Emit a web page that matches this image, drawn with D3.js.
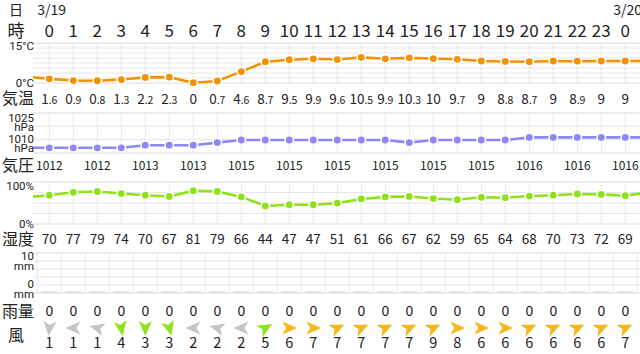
<!DOCTYPE html>
<html>
<head>
<meta charset="utf-8">
<script src="https://cdn.jsdelivr.net/npm/d3@7"></script>
<style>
  body { margin: 0; background: #fff; }
  svg { display: block; font-family: "Noto Sans CJK JP", "Noto Sans", sans-serif; }
</style>
</head>
<body>
<svg id="chart" width="640" height="354"></svg>
<script>
// columns shown (hour 0 of 3/19 .. hour 0 of 3/20)
const hours = [0, 1, 2, 3, 4, 5, 6, 7, 8, 9, 10, 11, 12, 13, 14, 15, 16, 17, 18, 19, 20, 21, 22, 23, 24];
const hourLabels = ["0", "1", "2", "3", "4", "5", "6", "7", "8", "9", "10", "11", "12", "13", "14", "15", "16", "17", "18", "19", "20", "21", "22", "23", "0"];
const dateLabels = [{ hour: 0, label: "3/19" }, { hour: 24, label: "3/20" }];

const temps = [1.6, 0.9, 0.8, 1.3, 2.2, 2.3, 0, 0.7, 4.6, 8.7, 9.5, 9.9, 9.6, 10.5, 9.9, 10.3, 10, 9.7, 9, 8.8, 8.7, 9, 8.9, 9, 9];
const pressures = [1012, 1012, 1012, 1012, 1013, 1013, 1013, 1014, 1015, 1015, 1015, 1015, 1015, 1015, 1015, 1014, 1015, 1015, 1015, 1015, 1016, 1016, 1016, 1016, 1016];
const humidity = [70, 77, 79, 74, 70, 67, 81, 79, 66, 44, 47, 47, 51, 61, 66, 67, 62, 59, 65, 64, 68, 70, 73, 72, 69];
const rain = [0, 0, 0, 0, 0, 0, 0, 0, 0, 0, 0, 0, 0, 0, 0, 0, 0, 0, 0, 0, 0, 0, 0, 0, 0];
const windSpeed = [1, 1, 1, 4, 3, 3, 2, 2, 2, 5, 6, 7, 7, 7, 7, 7, 9, 8, 6, 6, 6, 6, 6, 6, 7];
// direction the arrow points, degrees clockwise from "right"
const windDir = [95, 180, 195, 80, 90, 75, 180, 195, 180, 330, 0, 0, 335, 335, 335, 335, 335, 0, 0, 0, 335, 335, 335, 335, 335];

// neighbours just outside the window (hour -1 and hour 25)
const tempEdge = [2.6, 9];
const pressureEdge = [1012, 1016];
const humidityEdge = [65, 77];

const svg = d3.select("#chart");
const W = 640;
const plotLeft = 33;

const x = d3.scaleLinear().domain([0, 24]).range([49.3, 625.3]);

const panels = {
  temp: { top: 43, bottom: 83, lines: 8 },
  pres: { top: 113, bottom: 153, lines: 3 },
  hum: { top: 182, bottom: 224, lines: 4 },
  rain: { top: 253, bottom: 293, lines: 5 }
};

const yTemp = d3.scaleLinear().domain([0, 15]).range([82.7, 46.5]);
const yPres = d3.scaleLinear().domain([1010, 1025]).range([153, 114]);
const yHum = d3.scaleLinear().domain([0, 100]).range([224.2, 182.8]);
const yRain = d3.scaleLinear().domain([0, 10]).range([293, 253]);

const textColor = "#222";
const gridColor = "#e6e6e6";

svg.append("defs").append("clipPath").attr("id", "plot")
  .append("rect").attr("x", plotLeft).attr("y", 0).attr("width", W - plotLeft).attr("height", 354);

// ---- grids
function drawGrid(p, offset) {
  const g = svg.append("g").attr("clip-path", "url(#plot)");
  const step = (p.bottom - p.top) / p.lines;
  for (let i = 0; i <= p.lines; i++) {
    const yy = p.top + i * step;
    g.append("line")
      .attr("x1", plotLeft).attr("x2", W)
      .attr("y1", yy).attr("y2", yy)
      .attr("stroke", i === 0 || i === p.lines ? "#dcdcdc" : gridColor)
      .attr("stroke-width", 1);
  }
  const vs = d3.range(-1, 26).map(h => h + offset);
  g.selectAll(".v").data(vs).join("line")
    .attr("x1", d => x(d)).attr("x2", d => x(d))
    .attr("y1", p.top).attr("y2", p.bottom)
    .attr("stroke", gridColor).attr("stroke-width", 1);
}
drawGrid(panels.temp, 0);
drawGrid(panels.pres, 0);
drawGrid(panels.hum, 0);
drawGrid(panels.rain, -0.5);

// ---- lines with dots
function drawSeries(values, edge, y, color) {
  const pts = [[-1, edge[0]]].concat(values.map((v, i) => [hours[i], v]), [[25, edge[1]]]);
  const g = svg.append("g").attr("clip-path", "url(#plot)");
  g.append("path")
    .attr("d", d3.line().x(d => x(d[0])).y(d => y(d[1]))(pts))
    .attr("fill", "none").attr("stroke", color).attr("stroke-width", 2.6);
  g.selectAll("circle").data(pts).join("circle")
    .attr("cx", d => x(d[0])).attr("cy", d => y(d[1]))
    .attr("r", 4.2)
    .attr("fill", color).attr("stroke", "#fff").attr("stroke-width", 1.6);
}
drawSeries(temps, tempEdge, yTemp, "#f39200");
drawSeries(pressures, pressureEdge, yPres, "#8c85fb");
drawSeries(humidity, humidityEdge, yHum, "#8ee21a");

// rain bars (zero -> small gray stub)
svg.append("g").selectAll("rect").data(rain).join("rect")
  .attr("x", (d, i) => x(hours[i]) - 8)
  .attr("width", 16)
  .attr("y", d => yRain(d) - 1.5)
  .attr("height", d => Math.max(1.5, yRain(0) - yRain(d)))
  .attr("fill", "#dadada");

// ---- left axis labels
function axisLabel(lines, yCenter) {
  const t = svg.append("text")
    .attr("text-anchor", "end")
    .attr("font-family", "Roboto, 'Noto Sans', sans-serif")
    .attr("font-size", 11.5)
    .attr("fill", textColor);
  lines.forEach((s, i) => {
    t.append("tspan").attr("x", 34).attr("y", yCenter + i * 9.5).attr("dy", "0.35em").text(s);
  });
}
axisLabel(["15°C"], 46);
axisLabel(["0°C"], 83);
axisLabel(["1025", "hPa"], 117.5);
axisLabel(["1010", "hPa"], 138.5);
axisLabel(["100%"], 186);
axisLabel(["0%"], 224);
axisLabel(["10", "mm"], 256);
axisLabel(["0", "mm"], 284);

// ---- row titles
const rowTitles = [
  { t: "日", y: 10, size: 14, x: 16 },
  { t: "時", y: 31, size: 17, x: 16 },
  { t: "気温", y: 98, size: 16, x: 18 },
  { t: "気圧", y: 165, size: 16, x: 18 },
  { t: "湿度", y: 239, size: 16, x: 18 },
  { t: "雨量", y: 311, size: 16, x: 18 },
  { t: "風", y: 335, size: 16, x: 16 }
];
svg.append("g").selectAll("text").data(rowTitles).join("text")
  .attr("x", d => d.x).attr("y", d => d.y).attr("dy", "0.35em")
  .attr("text-anchor", "middle")
  .attr("font-size", d => d.size)
  .attr("fill", textColor)
  .text(d => d.t);

// dates
svg.append("g").selectAll("text").data(dateLabels).join("text")
  .attr("x", d => x(d.hour) - 12).attr("y", 10).attr("dy", "0.35em")
  .attr("font-size", 14).attr("fill", textColor)
  .text(d => d.label);

// hours
svg.append("g").selectAll("text").data(hourLabels).join("text")
  .attr("x", (d, i) => x(hours[i])).attr("y", 31).attr("dy", "0.35em")
  .attr("text-anchor", "middle").attr("font-size", 17).attr("fill", textColor)
  .text(d => d);

// temperature values with small decimals
const tempText = svg.append("g").selectAll("text").data(temps).join("text")
  .attr("x", (d, i) => x(hours[i])).attr("y", 98).attr("dy", "0.35em")
  .attr("text-anchor", "middle").attr("fill", textColor);
tempText.each(function (d) {
  const parts = String(d).split(".");
  const t = d3.select(this);
  t.append("tspan").attr("font-size", 13.5).text(parts[0]);
  if (parts.length > 1) t.append("tspan").attr("font-size", 10.5).text("." + parts[1]);
});

// pressure labels, every second hour
svg.append("g").selectAll("text").data(pressures.filter((d, i) => i % 2 === 0)).join("text")
  .attr("x", (d, i) => x(hours[i * 2])).attr("y", 166).attr("dy", "0.35em")
  .attr("text-anchor", "middle").attr("font-size", 12).attr("fill", textColor)
  .text(d => d);

// humidity values
svg.append("g").selectAll("text").data(humidity).join("text")
  .attr("x", (d, i) => x(hours[i])).attr("y", 239).attr("dy", "0.35em")
  .attr("text-anchor", "middle").attr("font-size", 13.5).attr("fill", textColor)
  .text(d => d);

// rain values
svg.append("g").selectAll("text").data(rain).join("text")
  .attr("x", (d, i) => x(hours[i])).attr("y", 311).attr("dy", "0.35em")
  .attr("text-anchor", "middle").attr("font-size", 14).attr("fill", textColor)
  .text(d => d);

// wind arrows
function windColor(s) {
  if (s <= 2) return "#c4c4c4";
  if (s <= 5) return "#8ee21a";
  return "#f5b71c";
}
svg.append("g").selectAll("path").data(windSpeed).join("path")
  .attr("d", "M8,0 L-7,-6.5 L-3,0 L-7,6.5 Z")
  .attr("transform", (d, i) => `translate(${x(hours[i])},328) rotate(${windDir[i]})`)
  .attr("fill", d => windColor(d));

svg.append("g").selectAll("text").data(windSpeed).join("text")
  .attr("x", (d, i) => x(hours[i])).attr("y", 343).attr("dy", "0.35em")
  .attr("text-anchor", "middle").attr("font-size", 14.5).attr("fill", textColor)
  .text(d => d);
</script>
</body>
</html>
